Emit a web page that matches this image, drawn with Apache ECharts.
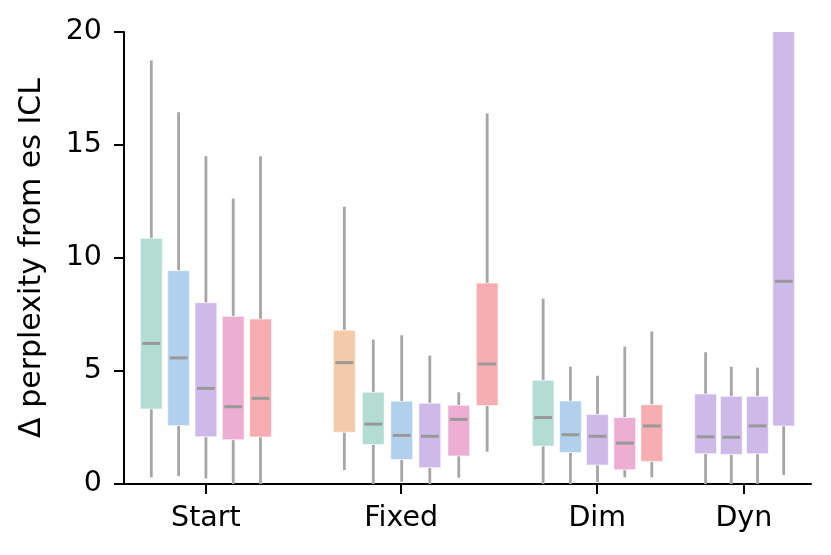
<!DOCTYPE html>
<html>
<head>
<meta charset="utf-8">
<script src="https://cdn.jsdelivr.net/npm/echarts@6/dist/echarts.min.js"></script>
<style>
  html, body { margin: 0; padding: 0; background: #fff; }
  #chart { width: 831px; height: 555px; }
</style>
</head>
<body>
<div id="chart"></div>
<script>
// group labels and where their ticks sit on the x axis
const groupNames = ['Start', 'Fixed', 'Dim', 'Dyn'];
const groupTicks = [3.0, 10.15, 17.33, 22.7];

// one entry per box
const positions = [1, 2, 3, 4, 5,
    8.07, 9.13, 10.17, 11.2, 12.26, 13.3,
    15.35, 16.35, 17.34, 18.34, 19.33,
    21.3, 22.24, 23.2, 24.16];
const boxColors = ['green', 'blue', 'purple', 'pink', 'red',
    'orange', 'green', 'blue', 'purple', 'pink', 'red',
    'green', 'blue', 'purple', 'pink', 'red',
    'purple', 'purple', 'purple', 'purple'];
const whiskerLow = [0.30, 0.35, 0.24, 0, 0,
    0.62, 0, 0.10, 0, 0.28, 1.43,
    0, 0, 0.10, 0.30, 0.30,
    0, 0, 0, 0.40];
const q1 = [3.32, 2.58, 2.09, 1.96, 2.08,
    2.29, 1.75, 1.08, 0.72, 1.24, 3.47,
    1.68, 1.39, 0.84, 0.63, 1.00,
    1.34, 1.31, 1.34, 2.57];
const median = [6.22, 5.58, 4.23, 3.42, 3.79,
    5.37, 2.65, 2.15, 2.11, 2.86, 5.31,
    2.94, 2.18, 2.11, 1.81, 2.57,
    2.09, 2.07, 2.57, 8.97];
const q3 = [10.87, 9.44, 8.02, 7.42, 7.30,
    6.80, 4.06, 3.66, 3.57, 3.48, 8.89,
    4.59, 3.67, 3.07, 2.94, 3.51,
    3.98, 3.88, 3.88, 24];
const whiskerHigh = [18.74, 16.45, 14.5, 12.63, 14.5,
    12.27, 6.39, 6.58, 5.68, 4.06, 16.4,
    8.2, 5.19, 4.79, 6.08, 6.75,
    5.83, 5.19, 5.15, 35];

const palette = {
    orange: '#f3caaa',
    green: '#b3ddd2',
    blue: '#b0d0eb',
    purple: '#cebae8',
    pink: '#ecaed2',
    red: '#f7aeb2'
};

const boxWidth = 0.8;
const font = 'DejaVu Sans';

const rows = positions.map((x, i) => [x, whiskerLow[i], q1[i], median[i], q3[i], whiskerHigh[i], i]);

function renderBox(params, api) {
    const x = api.value(0);
    const lo = api.coord([x, api.value(1)]);
    const b1 = api.coord([x, api.value(2)]);
    const md = api.coord([x, api.value(3)]);
    const b3 = api.coord([x, api.value(4)]);
    const hi = api.coord([x, api.value(5)]);
    const w = api.size([boxWidth, 0])[0];
    const color = palette[boxColors[api.value(6)]];
    const whisker = { stroke: '#a6a6a6', lineWidth: 2.8 };
    return {
        type: 'group',
        children: [
            { type: 'line', shape: { x1: lo[0], y1: lo[1], x2: lo[0], y2: b1[1] }, style: whisker },
            { type: 'line', shape: { x1: hi[0], y1: b3[1], x2: hi[0], y2: hi[1] }, style: whisker },
            {
                type: 'rect',
                shape: { x: md[0] - w / 2, y: b3[1], width: w, height: b1[1] - b3[1] },
                style: { fill: color, stroke: 'rgba(255,255,255,0.6)', lineWidth: 1 }
            },
            {
                type: 'line',
                shape: { x1: md[0] - w / 2 + 2, y1: md[1], x2: md[0] + w / 2 - 2, y2: md[1] },
                style: { stroke: '#999999', lineWidth: 3 }
            }
        ]
    };
}

const chart = echarts.init(document.getElementById('chart'));
chart.setOption({
    animation: false,
    grid: { left: 124, right: 20, top: 32, bottom: 71, containLabel: false },
    xAxis: {
        type: 'value',
        min: 0,
        max: 25.16,
        splitLine: { show: false },
        axisLine: { show: true, onZero: false, lineStyle: { color: '#000', width: 2 } },
        axisTick: { show: true, customValues: groupTicks, length: 10, lineStyle: { color: '#000', width: 2 } },
        axisLabel: {
            customValues: groupTicks,
            formatter: v => {
                const i = groupTicks.findIndex(t => Math.abs(t - v) < 1e-6);
                return i >= 0 ? groupNames[i] : '';
            },
            color: '#000',
            fontFamily: font,
            fontSize: 28.5,
            margin: 20
        }
    },
    yAxis: {
        type: 'value',
        min: 0,
        max: 20,
        interval: 5,
        name: 'Δ perplexity from es ICL',
        nameLocation: 'middle',
        nameRotate: 90,
        nameGap: 77,
        nameTextStyle: { color: '#000', fontFamily: font, fontSize: 30 },
        splitLine: { show: false },
        axisLine: { show: true, lineStyle: { color: '#000', width: 2 } },
        axisTick: { show: true, length: 10, lineStyle: { color: '#000', width: 2 } },
        axisLabel: { color: '#000', fontFamily: font, fontSize: 28.5, margin: 22 }
    },
    series: [{
        type: 'custom',
        clip: true,
        renderItem: renderBox,
        encode: { x: 0, y: [1, 2, 3, 4, 5] },
        data: rows
    }]
});
</script>
</body>
</html>
